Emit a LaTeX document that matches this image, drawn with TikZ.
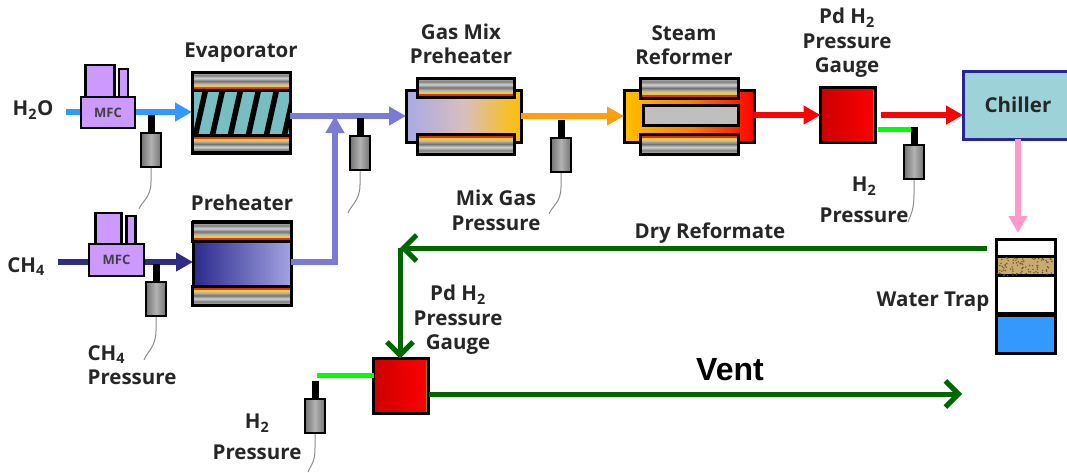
\documentclass[tikz,border=0pt]{standalone}
\usepackage{fontspec}
\setmainfont{Open Sans}
\newfontfamily\ventfont{Liberation Sans}
\usetikzlibrary{arrows.meta}
\definecolor{waterblue}{HTML}{3399FF}
\definecolor{methaneblue}{HTML}{2E2E80}
\definecolor{mixblue}{HTML}{7B7BD6}
\definecolor{mfcpurple}{HTML}{CC99FF}
\definecolor{mixorange}{HTML}{FF9F10}
\definecolor{chillerteal}{HTML}{9DD3D8}
\definecolor{chillerpink}{HTML}{FF99CC}
\definecolor{trapgreen}{HTML}{006600}
\definecolor{traptan}{HTML}{C8AB70}
\definecolor{trapbrown}{HTML}{6E5428}
\definecolor{bandred}{HTML}{DD3300}
\definecolor{bandyellow}{HTML}{E8C850}
\pgfdeclareverticalshading{bandtop}{100bp}{
  color(0bp)=(bandred); color(25bp)=(bandred); color(33bp)=(bandred); color(35bp)=(bandyellow);
  color(39bp)=(bandyellow); color(43bp)=(black!30); color(50bp)=(black!55); color(58bp)=(black!18);
  color(66bp)=(black!50); color(75bp)=(black!22); color(100bp)=(black!22)}
\pgfdeclareverticalshading{bandbot}{100bp}{
  color(0bp)=(black!22); color(25bp)=(black!22); color(34bp)=(black!50); color(42bp)=(black!18);
  color(50bp)=(black!55); color(57bp)=(black!30); color(61bp)=(bandyellow); color(65bp)=(bandyellow);
  color(67bp)=(bandred); color(75bp)=(bandred); color(100bp)=(bandred)}
% heater band: corners, then shading
\newcommand{\heatband}[5]{
  \draw[line width=3pt,shading=#5] (#1,#2) rectangle (#3,#4);
}
% pressure sensor: name, x, top y, tail end x, tail end y
\newcommand{\sensorat}[5]{
  \node[sensorbody] (#1) at (#2,#3+35) {};
  \draw[line width=7pt] (#2,#3) -- (#1.north);
  \coordinate (#1end) at (#4,#5);
  \draw[sensortail] (#1.south) -- ++(0,14) .. controls ++(0,16) and ++(3,-8) .. (#1end);
}
\tikzset{
  unit/.style={draw,line width=3pt,inner sep=0pt,outer sep=0pt},
  mfc/.style={unit,line width=2.5pt,fill=mfcpurple,font=\bfseries\fontsize{13}{13}\selectfont,text=black!75},
  gaugebox/.style={unit,minimum width=55pt,minimum height=55pt,left color=red!80!black,right color=red},
  sensorbody/.style={draw,line width=1.5pt,left color=black!55,right color=black!55,middle color=black!30,
    minimum width=20pt,minimum height=34pt,inner sep=0pt},
  sensortail/.style={draw=black!45,line width=1pt},
  lbl/.style={font=\bfseries\fontsize{20.5}{24.5}\selectfont,text=black!85,align=center,inner sep=0pt},
  flow/.style={line width=6pt,-{Triangle[length=17pt,width=18pt]}},
  drypipe/.style={line width=5pt,draw=trapgreen,-{Straight Barb[length=13pt,width=26pt]}},
  h2line/.style={line width=5pt,draw=green},
}
\begin{document}
\begin{tikzpicture}[x=1pt,y=-1pt]
  \useasboundingbox (0,0) rectangle (1067,472);
  % joints
  \coordinate (mixjoin) at (335,116);
  \coordinate (waterin) at (66,112);
  \coordinate (methin) at (58,262);
  \coordinate (hyda) at (917,129);
  \coordinate (hydb) at (317,375);
  % evaporator
  \node[unit,fill=chillerteal!75!teal,minimum width=98pt,minimum height=80pt] (evap) at (241,112) {};
  \begin{scope}
    \clip (193,90) rectangle (289,135);
    \foreach \xval in {197,214,232,250,268,286}
      \draw[line width=5.5pt] (\xval-2,137) -- (\xval+9,88);
  \end{scope}
  \heatband{192}{72}{290}{90}{bandtop}
  \heatband{192}{135}{290}{153}{bandbot}
  \draw[line width=3pt] (evap.north west) rectangle (evap.south east);
  % preheater
  \node[unit,left color=methaneblue!90!blue,right color=mixblue!70!white,minimum width=98pt,minimum height=84pt] (prehtr) at (242,263) {};
  \heatband{192}{222}{291}{241}{bandtop}
  \heatband{192}{286}{291}{305}{bandbot}
  % gas mix preheater
  \node[unit,left color=mixblue!65!white,right color=orange!50!yellow,middle color=orange!40!mixblue!50!white,minimum width=115pt,minimum height=52pt] (gasmix) at (463.5,116) {};
  \heatband{417}{78}{514}{97}{bandtop}
  \heatband{417}{134}{514}{154}{bandbot}
  % steam reformer
  \node[unit,left color=orange!50!yellow,right color=red,middle color=orange,minimum width=130pt,minimum height=52pt] (reformer) at (689,116) {};
  \heatband{640}{78}{738}{98}{bandtop}
  \heatband{640}{134}{738}{154}{bandbot}
  \node[unit,fill=black!25,minimum width=95pt,minimum height=20pt] (reformcore) at (690.5,115) {};
  % gauges and chiller
  \node[gaugebox] (gaugea) at (848,115) {};
  \node[gaugebox] (gaugeb) at (401,386) {};
  \draw[olive,line width=1.5pt] ([xshift=-2.2pt,yshift=-2pt]gaugea.north east) -- ([xshift=-2.2pt,yshift=2pt]gaugea.south east);
  \draw[olive,line width=1.5pt] ([xshift=-2.2pt,yshift=-2pt]gaugeb.north east) -- ([xshift=-2.2pt,yshift=2pt]gaugeb.south east);
  \node[unit,draw=methaneblue!80!blue,fill=chillerteal,minimum width=106pt,minimum height=68pt] (chiller) at (1016,105) {};
  % water trap
  \node[unit,fill=white,minimum width=59pt,minimum height=74pt] (trapbody) at (1026,276) {};
  \node[unit,fill=waterblue,minimum width=59pt,minimum height=38pt] (trapwater) at (1026,334) {};
  \node[inner sep=0pt,fill=traptan,minimum width=56pt,minimum height=19pt] (trapbed) at (1026,266) {};
  \draw[line width=2.5pt] (trapbed.north west) -- (trapbed.north east) (trapbed.south west) -- (trapbed.south east);
  \pgfmathsetseed{7}
  \foreach \i in {1,...,90}
    \fill[trapbrown] (trapbed.south west) ++({rnd*55},{-rnd*18}) circle (0.8pt);
  % mass flow controllers
  \node[unit,line width=2.5pt,fill=mfcpurple,minimum width=29pt,minimum height=32pt] (mfcatall) at (100,81) {};
  \node[unit,line width=2.5pt,fill=mfcpurple,minimum width=9pt,minimum height=28pt] (mfcaslim) at (123.5,83) {};
  \node[unit,line width=2.5pt,fill=mfcpurple,minimum width=26pt,minimum height=31pt] (mfcbtall) at (108.5,228.5) {};
  \node[unit,line width=2.5pt,fill=mfcpurple,minimum width=9pt,minimum height=28pt] (mfcbslim) at (131,230) {};
  % flow lines
  \draw[flow,waterblue,-] (waterin) -- ++(20,0);
  \draw[flow,waterblue] (135,112) -- (evap.west |- waterin);
  \draw[flow,methaneblue,-] (methin) -- ++(35,0);
  \draw[flow,methaneblue] (144,262) -- (prehtr.west |- methin);
  \draw[flow,mixblue] (evap.east |- mixjoin) -- (gasmix.west);
  \draw[flow,mixblue] (prehtr.east |- methin) -| (mixjoin);
  \draw[flow,mixorange] (gasmix.east) -- (reformer.west);
  \draw[flow,red] (reformer.east |- gaugea) -- (gaugea.west);
  \draw[flow,red] ([xshift=5pt]gaugea.east) -- (chiller.west |- gaugea);
  \draw[flow,chillerpink] (chiller.south -| 1018,0) -- (1018,233);
  \node[mfc,minimum width=54pt,minimum height=31pt] (mfca) at (108,112.5) {MFC};
  \node[mfc,minimum width=55pt,minimum height=32pt] (mfcb) at (116.5,260) {MFC};
  % hydrogen lines
  \draw[h2line] ([xshift=2pt]gaugea.east |- hyda) -- (hyda);
  \draw[h2line] (gaugeb.west |- hydb) -- (hydb);
  % sensors
  \sensorat{senswater}{151}{115}{139}{209}
  \sensorat{sensmeth}{156}{264}{144}{360}
  \sensorat{sensmix}{360}{118}{348}{213}
  \sensorat{sensgas}{561}{120}{549}{214}
  \sensorat{senshyda}{914}{127}{908}{222}
  \sensorat{senshydb}{315}{381}{308}{472}
  % dry reformate lines
  \coordinate (dryturn) at (400,248);
  \draw[drypipe] (987,248) -- (dryturn);
  \draw[drypipe] (dryturn) -- (gaugeb.north -| dryturn);
  \draw[drypipe] (gaugeb.east |- 0,394) -- (962,394);
  % labels
  \node[lbl] (lblwater) at (33,110) {H\textsubscript{2}O};
  \node[lbl] (lblmeth) at (26,267) {CH\textsubscript{4}};
  \node[lbl] (lblevap) at (241,53) {Evaporator};
  \node[lbl] (lblpre) at (242,203) {Preheater};
  \node[lbl] (lblgasmix) at (461,44) {Gas Mix\\Preheater};
  \node[lbl] (lblsteam) at (684,45) {Steam\\Reformer};
  \node[lbl] (lblpda) at (847,43) {Pd H\textsubscript{2}\\Pressure\\Gauge};
  \node[lbl,text=black!85] (lblchiller) at (1018,105) {Chiller};
  \node[lbl] (lblhyda) at (864,200) {H\textsubscript{2}\\[6pt]Pressure};
  \node[lbl] (lblmix) at (496,210.5) {Mix Gas\\Pressure};
  \node[lbl] (lbldry) at (710,233) {Dry Reformate};
  \node[lbl] (lbltrap) at (933,302) {Water Trap};
  \node[lbl,align=left] (lblmethp) at (132,365) {CH\textsubscript{4}\\Pressure};
  \node[lbl] (lblpdb) at (458,320) {Pd H\textsubscript{2}\\Pressure\\Gauge};
  \node[lbl] (lblhydb) at (257,437) {H\textsubscript{2}\\[6pt]Pressure};
  \node[inner sep=0pt,font=\ventfont\bfseries\fontsize{32}{32}\selectfont] (lblvent) at (730,370) {Vent};
\end{tikzpicture}
\end{document}
